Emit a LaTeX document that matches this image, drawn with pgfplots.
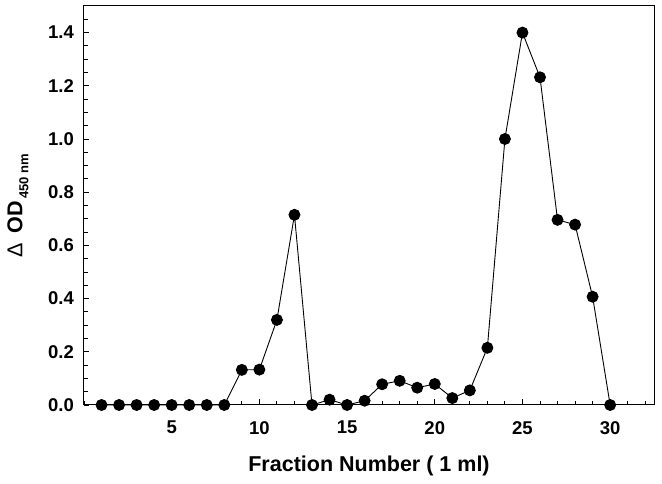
\documentclass[border=0pt]{standalone}
\usepackage{fontspec}
\setmainfont{Liberation Sans}
\usepackage{pgfplots}
\pgfplotsset{compat=1.18}
\begin{document}
\begin{tikzpicture}
\useasboundingbox (-84pt,-79pt) rectangle (578pt,405pt);
\begin{axis}[
    at={(0,0)}, anchor=south west,
    scale only axis, width=570pt, height=399pt,
    xmin=0, xmax=32.5, ymin=0, ymax=1.5,
    xtick={5,10,15,20,25,30},
    minor xtick={0,1,...,32},
    ytick={0,0.2,0.4,0.6,0.8,1.0,1.2,1.4},
    minor ytick={0,0.05,0.1,0.15,0.2,0.25,0.3,0.35,0.4,0.45,0.5,0.55,0.6,0.65,0.7,0.75,0.8,0.85,0.9,0.95,1.0,1.05,1.1,1.15,1.2,1.25,1.3,1.35,1.4,1.45},
    tick align=inside, xtick pos=bottom, ytick pos=left,
    major tick length=5.5pt, minor tick length=4pt,
    every tick/.style={black, line width=0.9pt},
    axis line style={line width=1pt},
    /pgf/number format/assume math mode=true,
    ticklabel style={font=\fontsize{18.5}{21}\selectfont\bfseries, inner sep=0pt},
    xticklabel style={anchor=north, yshift=-16pt},
    yticklabel style={/pgf/number format/fixed, /pgf/number format/fixed zerofill,
        /pgf/number format/precision=1, anchor=east, xshift=-10pt},
    xlabel={Fraction Number ( 1 ml)},
    ylabel={{\mdseries Δ}\hspace{0.45em}OD\raisebox{-6pt}{\fontsize{13}{15}\selectfont\,450 nm}},
    label style={font=\fontsize{21.5}{24}\selectfont\bfseries},
    xlabel style={at={(axis description cs:0.5,0)}, anchor=base, yshift=-67pt},
    ylabel style={at={(axis description cs:0,0.5)}, anchor=center, rotate=0, yshift=66pt},
    clip=false,
]
\addplot[black, line width=0.9pt, mark=*, mark size=5.5pt, mark options={fill=black}] coordinates {
    (1,0) (2,0) (3,0) (4,0) (5,0) (6,0) (7,0) (8,0)
    (9,0.132) (10,0.133) (11,0.32) (12,0.715) (13,0.0) (14,0.02)
    (15,0.0) (16,0.016) (17,0.078) (18,0.091) (19,0.065) (20,0.079)
    (21,0.026) (22,0.055) (23,0.215) (24,1.0) (25,1.4) (26,1.232)
    (27,0.696) (28,0.678) (29,0.407) (30,0)
};
\end{axis}
\end{tikzpicture}
\end{document}
